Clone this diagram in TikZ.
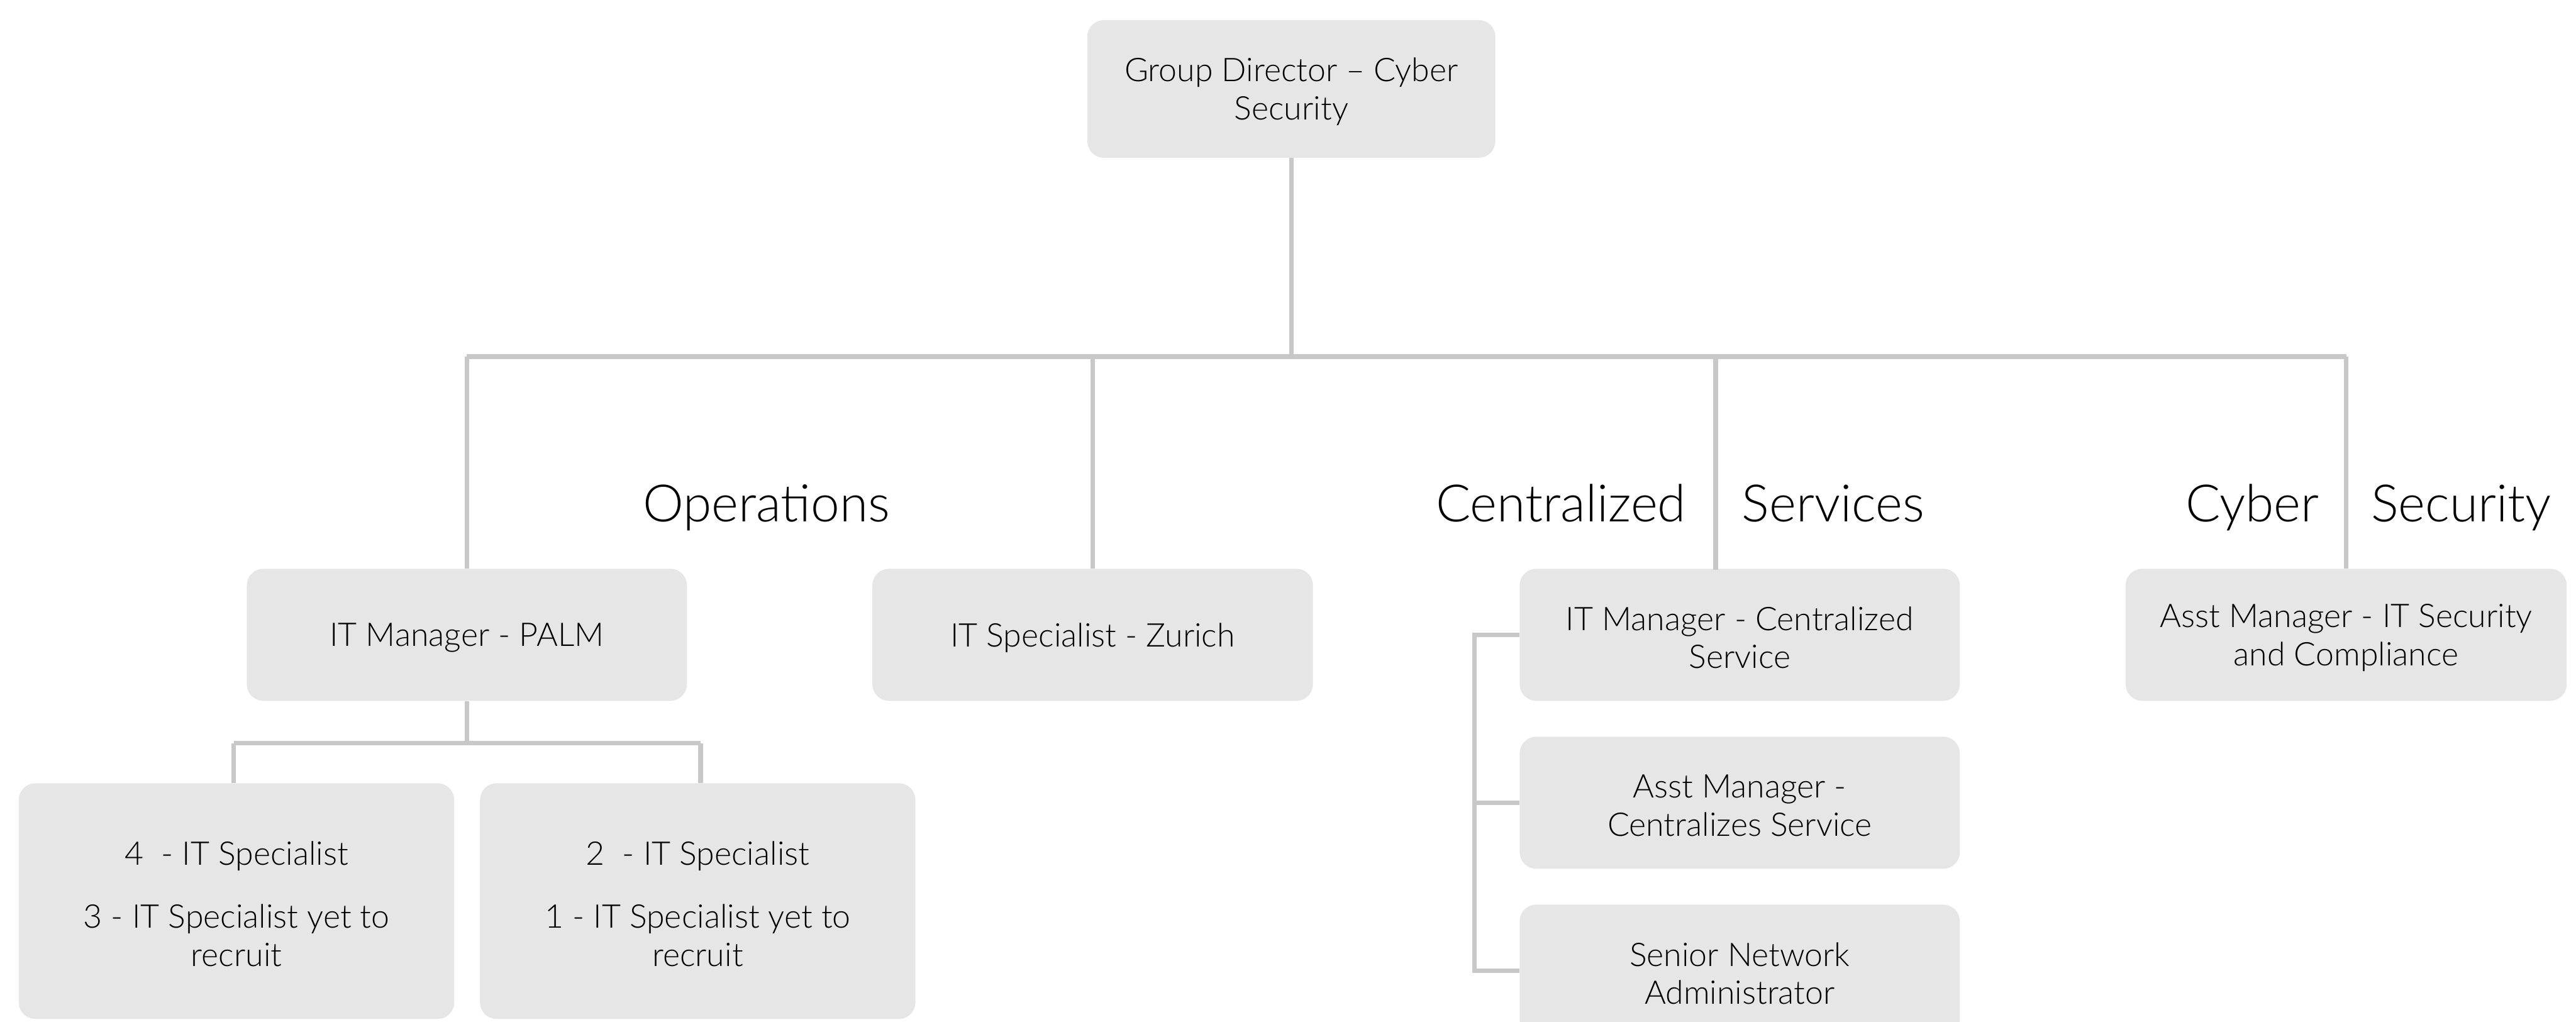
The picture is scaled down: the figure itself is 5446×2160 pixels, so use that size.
\documentclass[tikz,border=0pt]{standalone}
\usepackage{fontspec}
\IfFontExistsTF{Lato Light}{\setmainfont{Lato Light}}{\setmainfont{Lato}}
\definecolor{boxfill}{HTML}{E6E6E6}
\definecolor{linegray}{HTML}{C8C8C8}
\tikzset{
  orgbox/.style={fill=boxfill, draw=none, rounded corners=0.35cm, inner sep=0pt},
  boxtext/.style={align=center, font=\fontsize{19.6}{23}\selectfont, text=black,
    inner sep=0pt, yshift=-0.06cm},
  conn/.style={draw=linegray, line width=0.1cm},
  catlabel/.style={font=\fontsize{31}{37}\selectfont, inner sep=0pt, text=black}
}
\begin{document}
\begin{tikzpicture}[x=0.01cm, y=-0.01cm]
\useasboundingbox (0,0) rectangle (5446,2160);
% boxes
\node[orgbox, minimum width=8.62cm, minimum height=2.91cm,
  label={[boxtext]center:Group Director -- Cyber\\Security}] (top) at (2730,188) {};
\node[orgbox, minimum width=9.30cm, minimum height=2.79cm,
  label={[boxtext]center:IT Manager - PALM}] (palm) at (987,1342) {};
\node[orgbox, minimum width=9.31cm, minimum height=2.79cm,
  label={[boxtext]center:IT Specialist - Zurich}] (zur) at (2310,1342) {};
\node[orgbox, minimum width=9.30cm, minimum height=2.79cm,
  label={[boxtext]center:IT Manager - Centralized\\Service}] (cent) at (3678,1342) {};
\node[orgbox, minimum width=9.32cm, minimum height=2.79cm,
  label={[boxtext]center:Asst Manager - IT Security\\and Compliance}] (sec) at (4960,1342) {};
\node[orgbox, minimum width=9.30cm, minimum height=2.79cm,
  label={[boxtext]center:Asst Manager -\\Centralizes Service}] (ams) at (3678,1697) {};
\node[orgbox, minimum width=9.30cm, minimum height=2.79cm,
  label={[boxtext]center:Senior Network\\Administrator}] (sna) at (3678,2052) {};
\node[orgbox, minimum width=9.20cm, minimum height=4.98cm,
  label={[boxtext]center:4\ \ - IT Specialist\\[15pt]3 - IT Specialist yet to\\recruit}] (l4) at (500,1905) {};
\node[orgbox, minimum width=9.20cm, minimum height=4.98cm,
  label={[boxtext]center:2\ \ - IT Specialist\\[15pt]1 - IT Specialist yet to\\recruit}] (r2) at (1475,1905) {};
% category labels
\node[catlabel, anchor=base] (ops) at (1620,1103) {Operations};
\node[catlabel, anchor=base east] (cen1) at (3565,1103) {Centralized};
\node[catlabel, anchor=base west] (cen2) at (3682,1103) {Services};
\node[catlabel, anchor=base east] (cy1) at (4903,1103) {Cyber};
\node[catlabel, anchor=base west] (cy2) at (5012,1103) {Security};
% coordinates
\coordinate (bus) at (2730,754);
\coordinate (pbus) at (987,1571);
\coordinate (cbr) at (3117,1342);
\coordinate (centdrop) at (3627,1205);
% connectors
\draw[conn] (top.south) -- (top.south |- bus);
\draw[conn] (palm.north |- bus) -- (sec.north |- bus);
\draw[conn] (palm.north) -- (palm.north |- bus);
\draw[conn] (zur.north) -- (zur.north |- bus);
\draw[conn] (centdrop) -- (centdrop |- bus);
\draw[conn] (sec.north) -- (sec.north |- bus);
\draw[conn] (palm.south) -- (pbus);
\draw[conn] ([xshift=-0.06cm]l4.north |- pbus) -- ([xshift=0.06cm]r2.north |- pbus);
\draw[conn] ([xshift=-0.06cm]l4.north) -- ([xshift=-0.06cm]l4.north |- pbus);
\draw[conn] ([xshift=0.06cm]r2.north) -- ([xshift=0.06cm]r2.north |- pbus);
\draw[conn] (cent.west) -- (cbr) -- (cbr |- sna.west) -- (sna.west);
\draw[conn] (cbr |- ams.west) -- (ams.west);
\end{tikzpicture}
\end{document}
